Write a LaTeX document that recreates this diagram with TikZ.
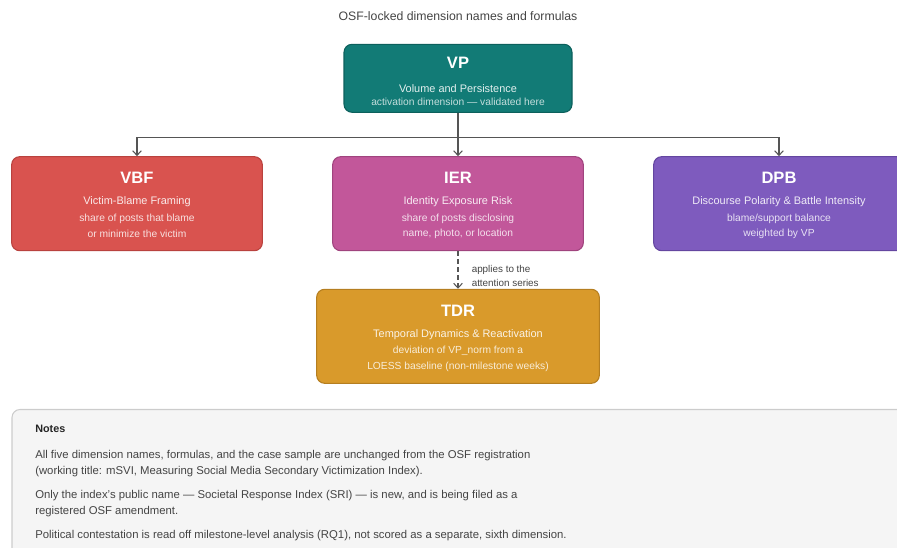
\documentclass[tikz,border=0pt]{standalone}
\usepackage{fontspec}
\setmainfont{Liberation Sans}
\usepackage{xcolor}
\usepackage{tikz}
\usetikzlibrary{arrows.meta,calc}

\definecolor{vpfill}{RGB}{18,123,118}
\definecolor{vpline}{RGB}{12,96,92}
\definecolor{vbffill}{RGB}{217,83,79}
\definecolor{vbfline}{RGB}{185,66,62}
\definecolor{ierfill}{RGB}{194,87,154}
\definecolor{ierline}{RGB}{160,68,126}
\definecolor{dpbfill}{RGB}{126,91,190}
\definecolor{dpbline}{RGB}{100,70,160}
\definecolor{tdrfill}{RGB}{217,154,43}
\definecolor{tdrline}{RGB}{181,126,32}
\definecolor{notefill}{RGB}{245,245,245}
\definecolor{noteline}{RGB}{204,204,204}
\definecolor{linkgray}{RGB}{85,85,85}
\definecolor{textgray}{RGB}{68,68,68}

\begin{document}
\begin{tikzpicture}[x=0.75pt,y=0.75pt,yscale=-1,xscale=1,
	dimbox/.style={rectangle,rounded corners=6pt,line width=0.8pt,inner sep=0pt},
	ttl/.style={text=white,font=\fontsize{12.4}{14}\selectfont\bfseries,inner sep=0.75pt},
	sub/.style={text=white,text opacity=0.88,font=\fontsize{8.2}{10}\selectfont,inner sep=0.75pt},
	det/.style={text=white,text opacity=0.82,font=\fontsize{7.7}{9}\selectfont,inner sep=0.75pt},
	link/.style={draw=linkgray,line width=0.8pt,-{Straight Barb[length=3.5pt,width=6.5pt]}},
	note/.style={anchor=west,text=textgray,font=\fontsize{8.5}{10}\selectfont,inner sep=0.75pt}]
	\useasboundingbox (0,0) rectangle (897,548);
	\clip (0,0) rectangle (897,548);

	% Text Node
	\node[text=textgray,font=\fontsize{9.2}{11}\selectfont,inner sep=0.75pt] (subtitle) at (458,16) {OSF-locked dimension names and formulas};

	%Shape: Rounded Rectangle [VP]
	\node[dimbox,fill=vpfill,draw=vpline,minimum width=171pt,minimum height=51pt] (vp) at (458,78.3) {};
	\node[ttl] (vpT) at (458,63.3) {VP};
	\node[sub] (vpA) at (458,88.3) {Volume and Persistence};
	\node[det,text opacity=0.75] (vpB) at (458,102.3) {activation dimension — validated here};

	%Shape: Rounded Rectangle [VBF]
	\node[dimbox,fill=vbffill,draw=vbfline,minimum width=188pt,minimum height=70.5pt] (vbf) at (137,203.7) {};
	\node[ttl] (vbfT) at (137,178.3) {VBF};
	\node[sub] (vbfA) at (137,201.7) {Victim-Blame Framing};
	\node[det] (vbfB) at (137,218.5) {share of posts that blame};
	\node[det] (vbfC) at (137,234.3) {or minimize the victim};

	%Shape: Rounded Rectangle [IER]
	\node[dimbox,fill=ierfill,draw=ierline,minimum width=188pt,minimum height=70.5pt] (ier) at (458,203.7) {};
	\node[ttl] (ierT) at (458,178.3) {IER};
	\node[sub] (ierA) at (458,201.7) {Identity Exposure Risk};
	\node[det] (ierB) at (458,218.5) {share of posts disclosing};
	\node[det] (ierC) at (458,234.3) {name, photo, or location};

	%Shape: Rounded Rectangle [DPB]
	\node[dimbox,fill=dpbfill,draw=dpbline,minimum width=188pt,minimum height=70.5pt] (dpb) at (779,203.7) {};
	\node[ttl] (dpbT) at (779,178.3) {DPB};
	\node[sub] (dpbA) at (779,201.7) {Discourse Polarity \& Battle Intensity};
	\node[det] (dpbB) at (779,218.5) {blame/support balance};
	\node[det] (dpbC) at (779,234.3) {weighted by VP};

	%Shape: Rounded Rectangle [TDR]
	\node[dimbox,fill=tdrfill,draw=tdrline,minimum width=212pt,minimum height=70.5pt] (tdr) at (458,336.3) {};
	\node[ttl] (tdrT) at (458,311) {TDR};
	\node[sub] (tdrA) at (458,334.3) {Temporal Dynamics \& Reactivation};
	\node[det] (tdrB) at (458,350.7) {deviation of VP\_norm from a};
	\node[det] (tdrC) at (458,366.7) {LOESS baseline (non-milestone weeks)};

	%Straight Lines [VP to the three dimensions]
	\coordinate (split) at (458,137.5);
	\draw[link] (vp.south) -- (ier.north);
	\draw[link] (split) -| (vbf.north);
	\draw[link] (split) -| (dpb.north);

	%Straight Lines [IER to TDR, dashed]
	\draw[link,dash pattern=on 3.5pt off 2.5pt] (ier.south) -- (tdr.north);
	% Text Node
	\node[anchor=west,align=left,text=textgray,font=\fontsize{7.4}{10.5}\selectfont,inner sep=0.75pt] (applies) at (470.5,276.3) {applies to the\\attention series};

	%Shape: Rounded Rectangle [Notes]
	\draw[draw=noteline,fill=notefill,line width=0.8pt,rounded corners=6pt] (12,409.5) rectangle (912,562);
	% Text Node
	\node[note,text=black!85,font=\fontsize{8.1}{9.5}\selectfont\bfseries] (notesT) at (34,429) {Notes};
	\node[note] (noteA1) at (34,455.5) {All five dimension names, formulas, and the case sample are unchanged from the OSF registration};
	\node[note] (noteA2) at (34,471.5) {(working title: mSVI, Measuring Social Media Secondary Victimization Index).};
	\node[note] (noteB1) at (34,496) {Only the index’s public name — Societal Response Index (SRI) — is new, and is being filed as a};
	\node[note] (noteB2) at (34,512) {registered OSF amendment.};
	\node[note] (noteC1) at (34,536) {Political contestation is read off milestone-level analysis (RQ1), not scored as a separate, sixth dimension.};
\end{tikzpicture}
\end{document}
